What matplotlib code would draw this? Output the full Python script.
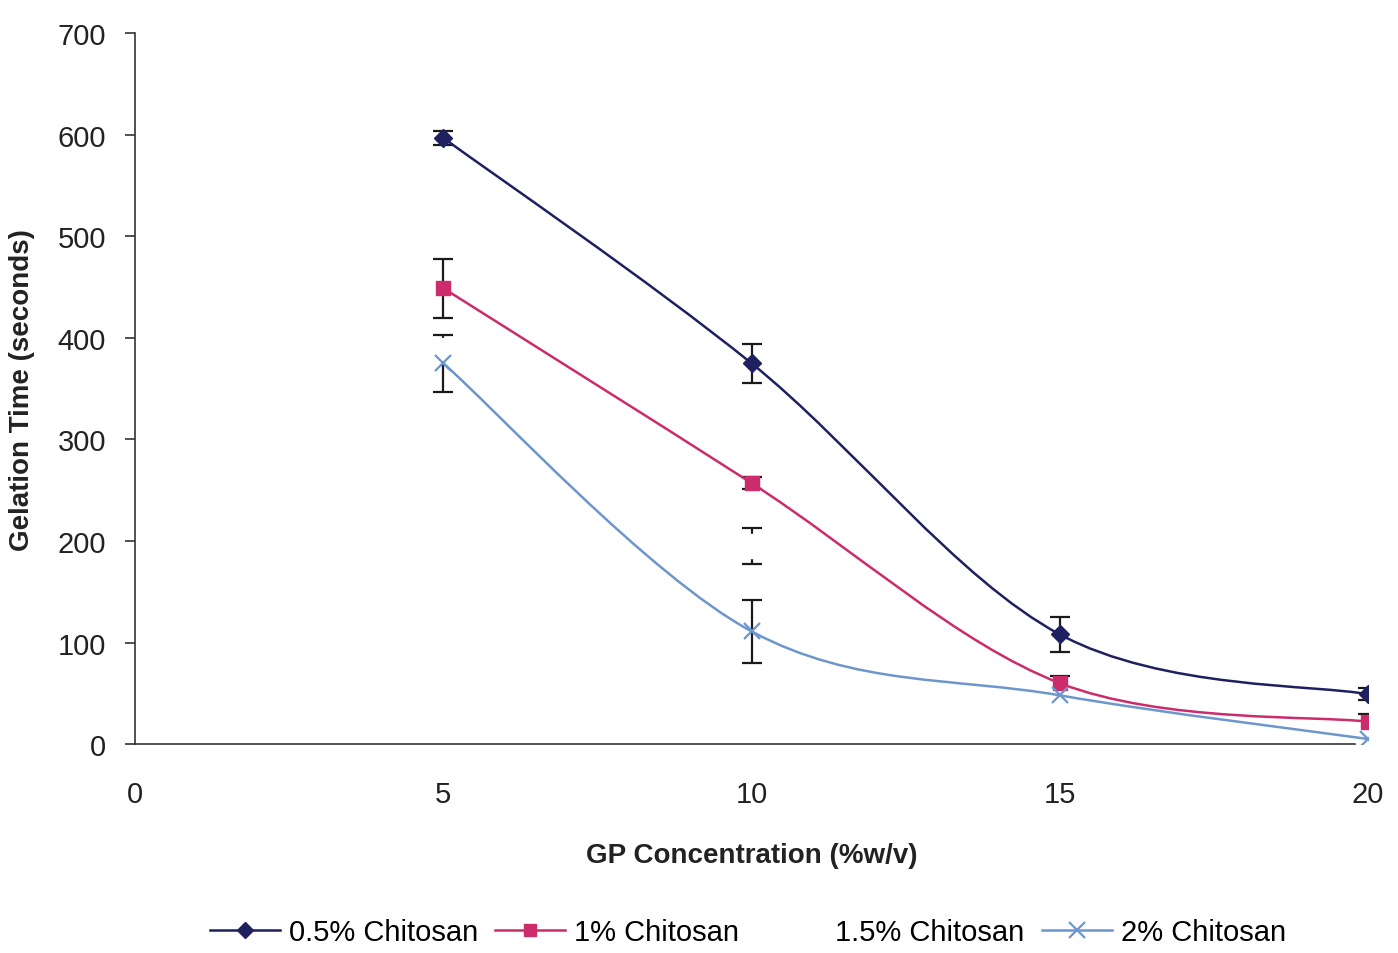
import numpy as np
import matplotlib
matplotlib.use("Agg")
import matplotlib.pyplot as plt
from matplotlib.path import Path
from matplotlib.patches import PathPatch
from matplotlib.lines import Line2D

plt.rcParams['font.family'] = ['Liberation Sans', 'DejaVu Sans']

# GP concentration (%w/v)
gp = [5, 10, 15, 20]

# gelation time (s) and error bars per chitosan concentration
chi_05 = [597, 375, 108, 49]
err_05 = [7, 19, 17, 6]
chi_1 = [449, 257, 60, 22]
err_1 = [29, 6, 7, 8]
chi_15 = [388, 195, 48, 12]   # drawn in white in the original (invisible)
err_15 = [0, 18, 0, 0]
chi_2 = [375, 111, 48, 5]
err_2 = [28, 31, 10, 4]

labels = ['0.5% Chitosan', '1% Chitosan', '1.5% Chitosan', '2% Chitosan']
colors = ['#1e2060', '#cc2c6c', '#ffffff', '#6c96cc']
markers = ['D', 's', 'o', 'x']


def smooth_path(xs, ys):
    # excel style smoothed line: cubic bezier segments through the points
    pts = np.column_stack([xs, ys]).astype(float)
    n = len(pts)
    verts = [pts[0]]
    codes = [Path.MOVETO]
    for i in range(n - 1):
        p0 = pts[i - 1] if i > 0 else pts[i]
        p1 = pts[i]
        p2 = pts[i + 1]
        p3 = pts[i + 2] if i + 2 < n else pts[i + 1]
        c1 = p1 + (p2 - p0) / 6.0
        c2 = p2 - (p3 - p1) / 6.0
        verts += [c1, c2, p2]
        codes += [Path.CURVE4] * 3
    return Path(verts, codes)


fig = plt.figure(figsize=(13.98, 9.54), dpi=100)
ax = fig.add_axes([0.0966, 0.219, 0.882, 0.745])

series = [(chi_05, err_05), (chi_1, err_1), (chi_15, err_15), (chi_2, err_2)]

# error bars first
for ys, es in series:
    ax.errorbar(gp, ys, yerr=es, fmt='none', ecolor='#1a1a1a', elinewidth=1.6,
                capsize=7, capthick=1.6, zorder=2)

# hidden 1.5% series (white, covers part of the error bars like in the scan)
ax.plot(gp, chi_15, linestyle='none', marker='s', markersize=17,
        markerfacecolor='white', markeredgecolor='white', zorder=3)

for i, (ys, es) in enumerate(series):
    if i == 2:
        continue
    ax.add_patch(PathPatch(smooth_path(gp, ys), facecolor='none',
                           edgecolor=colors[i], linewidth=1.8, zorder=4))
    if markers[i] == 'x':
        ax.plot(gp, ys, linestyle='none', marker='x', markersize=12,
                markeredgewidth=1.6, color=colors[i], zorder=5)
    else:
        ax.plot(gp, ys, linestyle='none', marker=markers[i],
                markersize=10 if markers[i] == 's' else 9,
                color=colors[i], zorder=5)

ax.set_xlim(0, 20)
ax.set_ylim(0, 700)
ax.set_xticks([0, 5, 10, 15, 20])
ax.set_yticks(range(0, 701, 100))

for s in ['top', 'right']:
    ax.spines[s].set_visible(False)
for s in ['left', 'bottom']:
    ax.spines[s].set_color('#333333')
    ax.spines[s].set_linewidth(1.2)

ax.tick_params(axis='y', direction='out', length=7, width=1.2, pad=14,
               labelsize=21, colors='#333333', labelcolor='#222222')
ax.tick_params(axis='x', direction='out', length=0, pad=26,
               labelsize=21, labelcolor='#222222')

ax.set_xlabel('GP Concentration (%w/v)', fontsize=20, fontweight='bold',
              color='#222222', labelpad=24)
ax.set_ylabel('Gelation Time (seconds)', fontsize=20, fontweight='bold',
              color='#222222', labelpad=16)

handles = []
for i in range(4):
    if i == 2:
        handles.append(Line2D([], [], color='white', linewidth=1.8))
    else:
        handles.append(Line2D([], [], color=colors[i], linewidth=1.8,
                              marker=markers[i],
                              markersize=11 if markers[i] == 'x' else 8,
                              markeredgewidth=1.6 if markers[i] == 'x' else 1.0))

fig.legend(handles, labels, loc='center', bbox_to_anchor=(0.535, 0.022),
           ncol=4, frameon=False, fontsize=21, handlelength=2.4,
           handletextpad=0.3, columnspacing=0.6)

fig.savefig('out.png', dpi=100)
